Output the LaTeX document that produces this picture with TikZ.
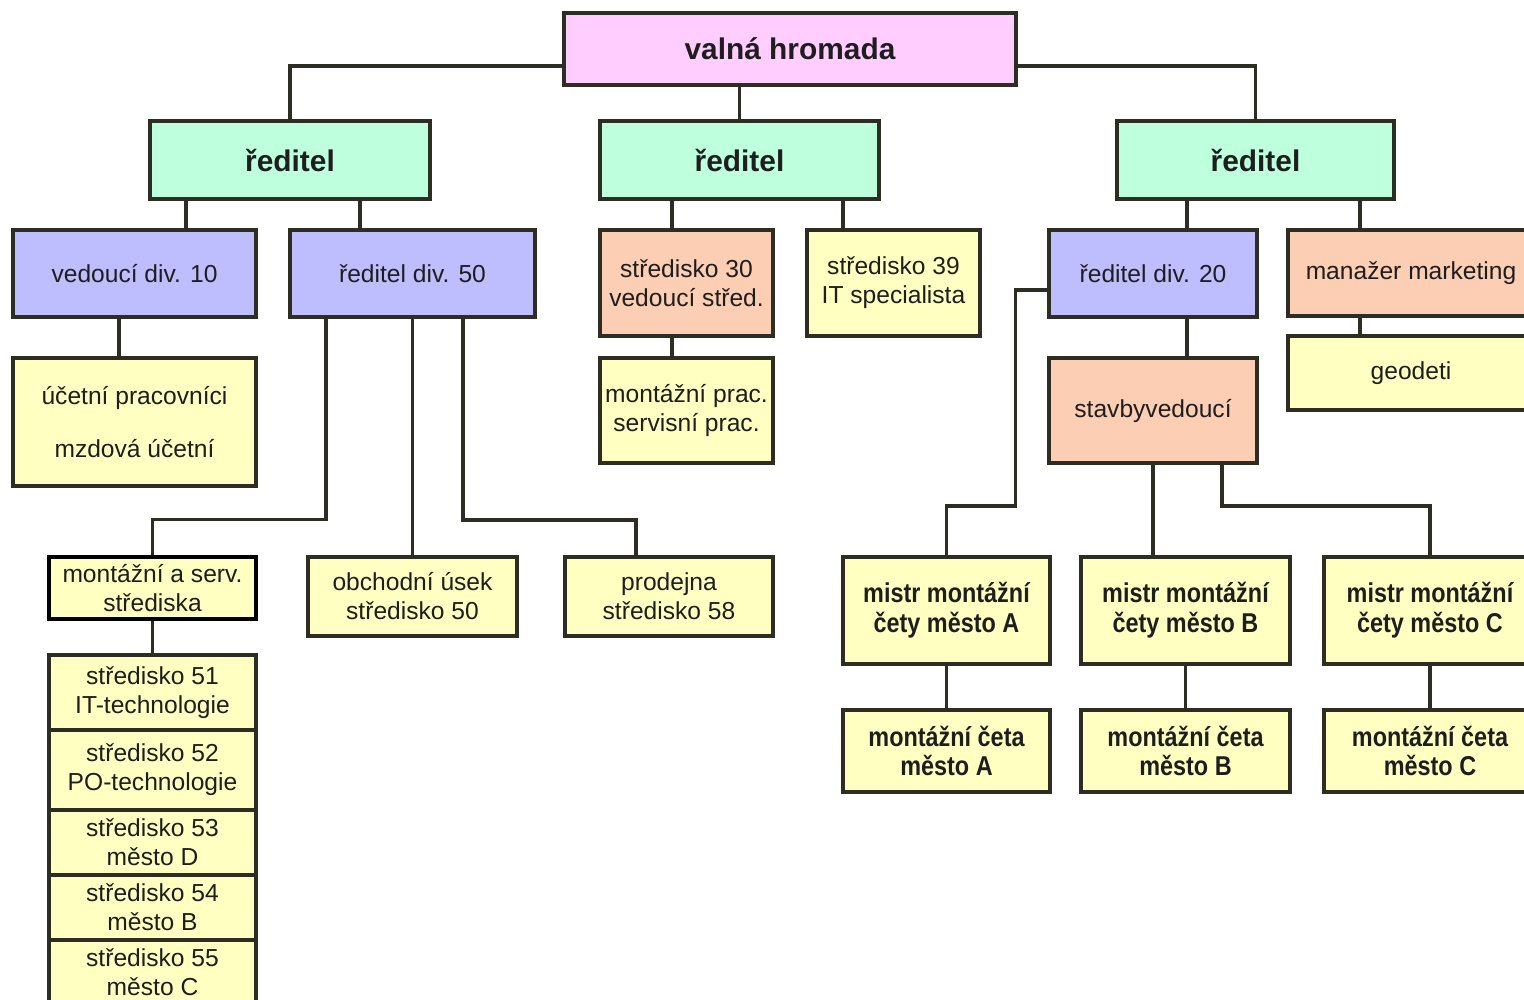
\documentclass[tikz,border=0pt]{standalone}
\usepackage{fontspec}
\setmainfont{Liberation Sans}
\newfontfamily\narrowsans[FakeStretch=0.86]{Liberation Sans}
\usepackage{tikz}
\usetikzlibrary{calc}
\definecolor{boardpink}{RGB}{255,206,255}
\definecolor{dirmint}{RGB}{190,255,222}
\definecolor{divlilac}{RGB}{190,190,255}
\definecolor{leadpeach}{RGB}{252,206,180}
\definecolor{staffyellow}{RGB}{255,255,194}
\definecolor{frameline}{RGB}{45,45,35}
\definecolor{inktext}{RGB}{30,30,30}

\begin{document}
\begin{tikzpicture}[x=0.02cm, y=-0.02cm,
  orgbox/.style={draw=frameline, line width=2pt, align=center, inner sep=0pt,
    text=inktext, font=\fontsize{14}{16.5}\selectfont},
  boxsize/.style 2 args={minimum width=#1*0.02cm, minimum height=#2*0.02cm},
  headbox/.style={orgbox, font=\fontsize{17}{20}\selectfont\bfseries},
  crewbox/.style={orgbox, fill=staffyellow, font=\narrowsans\fontsize{15.5}{17}\selectfont\bfseries},
  link/.style={draw=frameline, line width=2pt}]

\useasboundingbox (0,0) rectangle (1524,1000);
\clip (0,0) rectangle (1524,1000);
\fill[white] (0,0) rectangle (1524,1000);

% ==========================================
% Top Level
% ==========================================
\node[headbox, fill=boardpink, boxsize={452}{72}] (board) at (790,49) {valná hromada};
\node[headbox, fill=dirmint, boxsize={280}{78}] (dirL) at (290,160) {ředitel};
\node[headbox, fill=dirmint, boxsize={279}{78}] (dirM) at (739.5,160) {ředitel};
\node[headbox, fill=dirmint, boxsize={277}{78}] (dirR) at (1255.5,160) {ředitel};

% ==========================================
% Left Branch
% ==========================================
\node[orgbox, fill=divlilac, boxsize={243}{87}] (div10) at (134.5,273.5) {vedoucí div. 10};
\node[orgbox, fill=divlilac, boxsize={245}{87}] (div50) at (412.5,273.5) {ředitel div. 50};
\node[orgbox, fill=staffyellow, boxsize={243}{128}] (acct) at (134.5,422) {účetní pracovníci\\[14pt]mzdová účetní};
\node[orgbox, fill=staffyellow, boxsize={207}{62}, draw=black, line width=2.6pt] (service) at (152.5,588) {montážní a serv.\\střediska};
\node[orgbox, fill=staffyellow, boxsize={209}{79}] (sales) at (412.5,596.5) {obchodní úsek\\středisko 50};
\node[orgbox, fill=staffyellow, boxsize={208}{79}] (shop) at (669,596.5) {prodejna\\středisko 58};

% Service centre stack
\node[orgbox, fill=staffyellow, boxsize={207}{75}] (c51) at (152.5,692.5) {středisko 51\\IT-technologie};
\node[orgbox, fill=staffyellow, boxsize={207}{80}] (c52) at (152.5,770) {středisko 52\\PO-technologie};
\node[orgbox, fill=staffyellow, boxsize={207}{65}] (c53) at (152.5,842.5) {středisko 53\\město D};
\node[orgbox, fill=staffyellow, boxsize={207}{65}] (c54) at (152.5,907.5) {středisko 54\\město B};
\node[orgbox, fill=staffyellow, boxsize={207}{65}] (c55) at (152.5,972.5) {středisko 55\\město C};

% ==========================================
% Middle Branch
% ==========================================
\node[orgbox, fill=leadpeach, boxsize={173}{106}] (c30) at (686.5,283) {středisko 30\\vedoucí střed.};
\node[orgbox, fill=staffyellow, boxsize={173}{106}] (c39) at (893.5,283) {středisko 39\\IT specialista};
\node[orgbox, fill=staffyellow, boxsize={173}{105}] (fitters) at (686.5,410.5) {montážní prac.\\servisní prac.};

% ==========================================
% Right Branch
% ==========================================
\node[orgbox, fill=divlilac, boxsize={208}{87}] (div20) at (1153,273.5) {ředitel div. 20};
\node[orgbox, fill=leadpeach, boxsize={246}{86}] (mkt) at (1411,273) {manažer marketing};
\node[orgbox, fill=staffyellow, boxsize={246}{74}] (geo) at (1411,373) {geodeti};
\node[orgbox, fill=leadpeach, boxsize={208}{105}] (site) at (1153,410.5) {stavbyvedoucí};

\node[crewbox, boxsize={207}{107}] (foreA) at (946.5,610.5) {mistr montážní\\čety město A};
\node[crewbox, boxsize={209}{107}] (foreB) at (1185.5,610.5) {mistr montážní\\čety město B};
\node[crewbox, boxsize={212}{107}] (foreC) at (1430,610.5) {mistr montážní\\čety město C};
\node[crewbox, boxsize={207}{82}] (crewA) at (946.5,751) {montážní četa\\město A};
\node[crewbox, boxsize={209}{82}] (crewB) at (1185.5,751) {montážní četa\\město B};
\node[crewbox, boxsize={212}{82}] (crewC) at (1430,751) {montážní četa\\město C};

% ==========================================
% Connectors
% ==========================================
\draw[link] ([yshift=-0.34cm]board.west) -| (dirL.north);
\draw[link] ([yshift=-0.34cm]board.east) -| (dirR.north);
\draw[link] (dirM.north) -- (dirM.north |- board.south);

% left
\draw[link] ([xshift=-2.08cm]dirL.south) coordinate (tapA) -- (tapA |- div10.north);
\draw[link] ([xshift=1.4cm]dirL.south) coordinate (tapB) -- (tapB |- div50.north);
\draw[link] ([xshift=-0.31cm]div10.south) coordinate (tapC) -- (tapC |- acct.north);
\draw[link] ([xshift=-1.73cm]div50.south) |- ([yshift=0.7cm]service.north) -- (service.north);
\draw[link] (div50.south) -- (sales.north);
\draw[link] ([xshift=1.01cm]div50.south) |- ([xshift=-0.66cm,yshift=0.7cm]shop.north) -- ([xshift=-0.66cm]shop.north);
\draw[link] (service.south) -- (c51.north);

% middle
\draw[link] ([xshift=-1.35cm]dirM.south) coordinate (tapD) -- (tapD |- c30.north);
\draw[link] ([xshift=2.07cm]dirM.south) coordinate (tapE) -- (tapE |- c39.north);
\draw[link] ([xshift=-0.29cm]c30.south) coordinate (tapF) -- (tapF |- fitters.north);

% right
\draw[link] ([xshift=-1.37cm]dirR.south) coordinate (tapG) -- (tapG |- div20.north);
\draw[link] ([xshift=2.09cm]dirR.south) coordinate (tapH) -- (tapH |- mkt.north);
\draw[link] ([xshift=-1.02cm]mkt.south) coordinate (tapI) -- (tapI |- geo.north);
\draw[link] ([xshift=0.68cm]div20.south) coordinate (tapJ) -- (tapJ |- site.north);
\draw[link] ([yshift=-0.33cm]div20.west) -- ++(-32,0) |- ([yshift=0.98cm]foreA.north) -- (foreA.north);
\draw[link] (site.south) -- (site.south |- foreB.north);
\draw[link] ([xshift=1.38cm]site.south) |- ([yshift=0.98cm]foreC.north) -- (foreC.north);
\draw[link] (foreA.south) -- (crewA.north);
\draw[link] (foreB.south) -- (crewB.north);
\draw[link] (foreC.south) -- (crewC.north);

\end{tikzpicture}
\end{document}
